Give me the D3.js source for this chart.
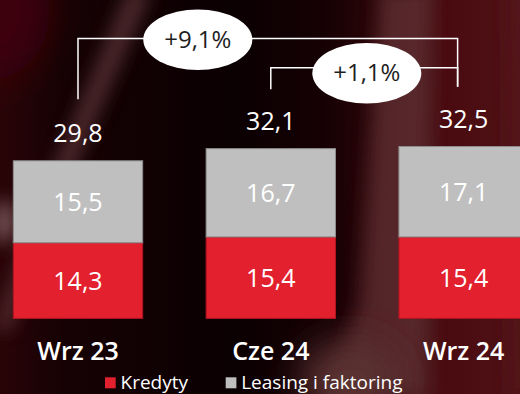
<!DOCTYPE html>
<html>
<head>
<meta charset="utf-8">
<script src="https://cdn.jsdelivr.net/npm/d3@7"></script>
<style>
  html, body { margin: 0; padding: 0; background: #0d0103; }
  svg { display: block; }
  text { font-family: "Open Sans", "DejaVu Sans", sans-serif; }
</style>
</head>
<body>
<svg id="chart" width="520" height="394"></svg>
<script>
// Periods and the two stacked components (bn PLN)
const categories = ["Wrz 23", "Cze 24", "Wrz 24"];
const kredyty = [14.3, 15.4, 15.4];
const leasing = [15.5, 16.7, 17.1];
const totals = [29.8, 32.1, 32.5];
const totalLabels = ["29,8", "32,1", "32,5"];
const seriesNames = ["Kredyty", "Leasing i faktoring"];
// Growth brackets: [from index, to index, label]
const growthFrom = [0, 1];
const growthTo = [2, 2];
const growthLabels = ["+9,1%", "+1,1%"];

const W = 520, H = 394;
const svg = d3.select("#chart");
const defs = svg.append("defs");

// ---- Background: dark burgundy with soft diagonal light streaks ----
const bg = defs.append("linearGradient").attr("id", "bgGrad")
  .attr("x1", 0).attr("y1", 0).attr("x2", 1).attr("y2", 0);
[[0, "#2a0407"], [0.12, "#160204"], [0.45, "#0b0002"], [0.62, "#150104"],
 [0.72, "#2a0508"], [0.8, "#4a1a1d"], [0.86, "#4a0b10"], [1, "#4e1216"]]
  .forEach(([o, c]) => bg.append("stop").attr("offset", o).attr("stop-color", c));

const blur = defs.append("filter").attr("id", "soft")
  .attr("x", "-50%").attr("y", "-50%").attr("width", "200%").attr("height", "200%");
blur.append("feGaussianBlur").attr("stdDeviation", 9);
const blurWide = defs.append("filter").attr("id", "softer")
  .attr("x", "-50%").attr("y", "-50%").attr("width", "200%").attr("height", "200%");
blurWide.append("feGaussianBlur").attr("stdDeviation", 18);

const bgG = svg.append("g");
bgG.append("rect").attr("width", W).attr("height", H).attr("fill", "url(#bgGrad)");
// red tint upper-left corner
bgG.append("ellipse").attr("cx", -10).attr("cy", 10).attr("rx", 60).attr("ry", 70)
  .attr("fill", "#3e0508").attr("filter", "url(#softer)");
// diagonal streak on the left
bgG.append("path").attr("d", "M128,-10 L152,-10 L60,200 L10,330 L-6,330 L40,200 Z")
  .attr("fill", "#5a3034").attr("opacity", 0.85).attr("filter", "url(#soft)");
bgG.append("ellipse").attr("cx", 4).attr("cy", 222).attr("rx", 10).attr("ry", 22)
  .attr("fill", "#7a5a5c").attr("filter", "url(#soft)");
// lighter band on the right
bgG.append("path").attr("d", "M380,-10 L430,-10 L425,394 L330,394 L360,300 Z")
  .attr("fill", "#5a2c2e").attr("opacity", 0.85).attr("filter", "url(#soft)");
bgG.append("ellipse").attr("cx", 350).attr("cy", 380).attr("rx", 50).attr("ry", 40)
  .attr("fill", "#5a3032").attr("filter", "url(#softer)");
bgG.append("path").attr("d", "M505,-10 L530,-10 L530,394 L508,394 Z")
  .attr("fill", "#56181c").attr("opacity", 0.7).attr("filter", "url(#soft)");

// ---- Scales ----
const x = d3.scaleBand().domain(categories).range([13.3, 528.3])
  .paddingInner(0.329).paddingOuter(0);
const y = d3.scaleLinear().domain([0, 60.2]).range([318.4, 0]);

const colors = ["#e3202d", "#bfbfbf"];
const strokes = ["#b01520", "#8c8c8c"];

const rows = categories.map((c, i) => ({ cat: c, Kredyty: kredyty[i], Leasing: leasing[i] }));
const stack = d3.stack().keys(["Kredyty", "Leasing"])(rows);
const inside = [kredyty, leasing];

const bars = svg.append("g");
stack.forEach((layer, k) => {
  bars.append("g").selectAll("rect").data(layer).join("rect")
    .attr("x", d => x(d.data.cat))
    .attr("y", d => y(d[1]))
    .attr("width", x.bandwidth())
    .attr("height", d => y(d[0]) - y(d[1]))
    .attr("fill", colors[k])
    .attr("stroke", strokes[k])
    .attr("stroke-width", 1);
});

const fmt = v => d3.format(".1f")(v).replace(".", ",");

// Values inside the segments
stack.forEach((layer, k) => {
  svg.append("g").selectAll("text").data(layer).join("text")
    .attr("x", d => x(d.data.cat) + x.bandwidth() / 2)
    .attr("y", d => (y(d[0]) + y(d[1])) / 2)
    .attr("dy", "0.36em")
    .attr("text-anchor", "middle")
    .attr("font-size", 25)
    .attr("font-weight", 500)
    .attr("fill", "#ffffff")
    .text((d, i) => fmt(inside[k][i]));
});

// Totals above the bars
svg.append("g").selectAll("text").data(categories).join("text")
  .attr("x", c => x(c) + x.bandwidth() / 2)
  .attr("y", (c, i) => y(totals[i]) - 18.5)
  .attr("text-anchor", "middle")
  .attr("font-size", 25)
  .attr("fill", "#ffffff")
  .text((c, i) => totalLabels[i]);

// Category axis labels
const xAxis = d3.axisBottom(x).tickSize(0).tickPadding(0);
const axG = svg.append("g").attr("transform", "translate(0,340)").call(xAxis);
axG.select(".domain").remove();
axG.selectAll("text")
  .attr("font-size", 25)
  .attr("font-weight", 600)
  .attr("fill", "#ffffff")
  .attr("dy", "0.78em")
  .style("font-family", "'Open Sans', sans-serif");

// ---- Growth brackets ----
const cx = i => x(categories[i]) + x.bandwidth() / 2;
const bracketY = [38.5, 67.7];
const leftDrop = [99.3, 89.3];
const rightX = cx(growthTo[0]) - 6;
const bracketG = svg.append("g").attr("fill", "none").attr("stroke", "#ffffff").attr("stroke-width", 1.5);
growthFrom.forEach((f, j) => {
  const lx = cx(f);
  bracketG.append("path")
    .attr("d", `M${lx},${leftDrop[j]} V${bracketY[j]} H${rightX} V86.7`);
});
const ellCx = [197.8, 366.8];
const ellCy = [39.7, 73.3];
growthLabels.forEach((lab, j) => {
  svg.append("ellipse").attr("cx", ellCx[j]).attr("cy", ellCy[j])
    .attr("rx", 54.5).attr("ry", 30.3).attr("fill", "#ffffff");
  svg.append("text").attr("x", ellCx[j]).attr("y", ellCy[j] - 0.5)
    .attr("dy", "0.36em").attr("text-anchor", "middle")
    .attr("font-size", 24).attr("fill", "#1e1e1e").text(lab);
});

// ---- Legend ----
const legX = [105, 225.7];
const legG = svg.append("g");
seriesNames.forEach((n, k) => {
  legG.append("rect").attr("x", legX[k]).attr("y", 377.3).attr("width", 10.7).attr("height", 11)
    .attr("fill", colors[k]);
  legG.append("text").attr("x", legX[k] + 15.5).attr("y", 388.5)
    .attr("font-size", 19).attr("fill", "#ffffff").text(n);
});
</script>
</body>
</html>
